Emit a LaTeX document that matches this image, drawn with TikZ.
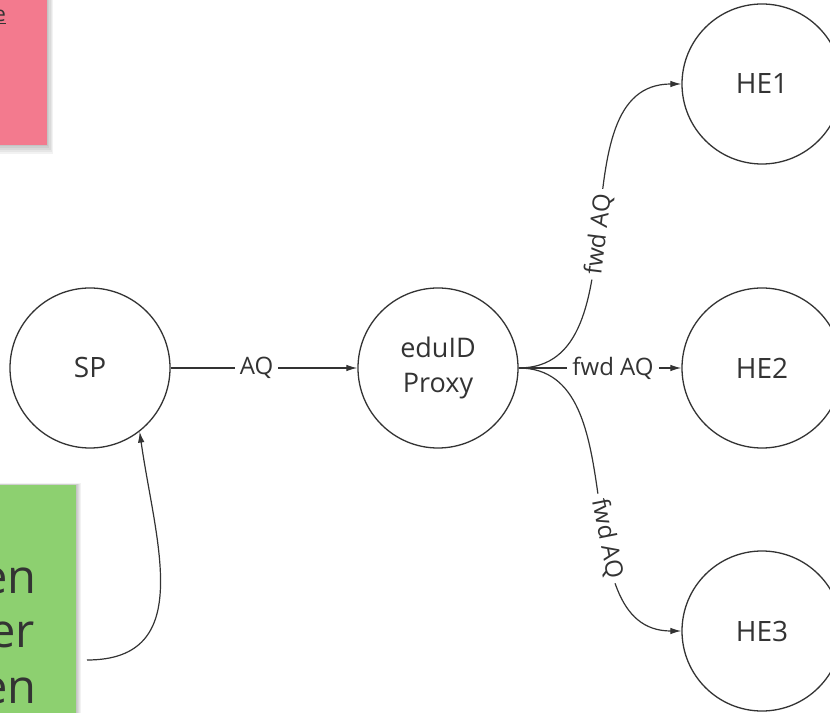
\documentclass[tikz,border=0pt]{standalone}
\usepackage{fontspec}
\setmainfont{Open Sans}
\usetikzlibrary{arrows.meta}
\definecolor{ink}{HTML}{333333}
\definecolor{notepink}{RGB}{243,122,142}
\definecolor{notegreen}{RGB}{141,208,112}
\begin{document}
\begin{tikzpicture}[x=1pt,y=1pt,
  state/.style={circle,draw=ink,line width=1.3pt,minimum size=160pt,inner sep=0pt,text=ink,font=\fontsize{28}{32}\selectfont},
  conn/.style={draw=ink,line width=1.2pt,-{Latex[length=11pt,width=6.5pt]}},
  lbl/.style={fill=white,text=ink,inner xsep=5pt,inner ysep=2pt,font=\fontsize{24}{28}\selectfont},
  note/.style={rectangle,inner sep=0pt,anchor=north west},
  notetext/.style={anchor=base east,inner sep=0pt,text=ink},
  shade/.style={fill=black,opacity=0.05}
]
\useasboundingbox (0,0) rectangle (830,713);
% shadows of the notes
\foreach \d in {1,3,5,7,9} {
  \fill[shade] (0,568-\d) rectangle (47+0.7*\d,713);
  \fill[shade] (0,0) rectangle (76+0.6*\d,228+0.2*\d);
}
% sticky notes
\node[note,fill=notepink,minimum width=47pt,minimum height=145pt] (pink) at (0,713) {};
\node[notetext,font=\fontsize{21}{24}\selectfont] (pinktext) at (6,691) {\underline{e}};
\node[note,fill=notegreen,minimum width=76pt,minimum height=228pt] (green) at (0,228) {};
\node[notetext,font=\fontsize{47}{54}\selectfont] (g1) at (37,120) {en};
\node[notetext,font=\fontsize{47}{54}\selectfont] (g2) at (35,66) {er};
\node[notetext,font=\fontsize{47}{54}\selectfont] (g3) at (37,10) {en};
% states
\node[state] (SP) at (90,345) {SP};
\node[state,align=center,font=\fontsize{27}{35}\selectfont] (proxy) at (438,345) {eduID\\Proxy};
\node[state] (HE1) at (762,629) {HE1};
\node[state] (HE2) at (762,345) {HE2};
\node[state] (HE3) at (762,82) {HE3};
% connectors
\draw[conn] (SP.east) -- node[lbl,pos=0.46] {AQ} (proxy.west);
\draw[conn] (proxy.east) to[out=0,in=180] node[lbl,sloped,pos=0.48] {fwd AQ} (HE1.west);
\draw[conn] (proxy.east) -- node[lbl,pos=0.58] {fwd AQ} (HE2.west);
\draw[conn] (proxy.east) to[out=0,in=180] node[lbl,sloped,pos=0.6] {fwd AQ} (HE3.west);
\coordinate (gstart) at (87,53);
\draw[conn] (gstart) to[out=0,in=-82,looseness=1.2] (SP.-52);
\end{tikzpicture}
\end{document}
